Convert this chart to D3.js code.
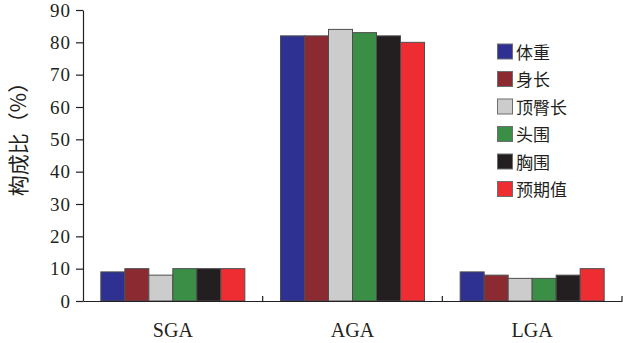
<!DOCTYPE html>
<html><head><meta charset="utf-8">
<script src="https://cdn.jsdelivr.net/npm/d3@7"></script>
<style>body{margin:0;background:#fff}</style>
</head><body>
<svg id="c" width="623" height="343"></svg>
<script>
const categories = ["SGA","AGA","LGA"];
const seriesNames = ["体重","身长","顶臀长","头围","胸围","预期值"];
const seriesColors = ["#2e3192","#8b2a30","#cccccc","#3a8e45","#231f20","#ee2d32"];
const values = [
  [9, 82, 9],
  [10, 82, 8],
  [8, 84, 7],
  [10, 83, 7],
  [10, 82, 8],
  [10, 80, 10]
];
const yTicks = [0,10,20,30,40,50,60,70,80,90];

(function(){
const svg = d3.select("#c");
const mLeft = 83, mRight = 622, mTop = 10, mBottom = 301;
const x = d3.scaleBand().domain(categories).range([mLeft, mRight]).paddingInner(0).paddingOuter(0);
const y = d3.scaleLinear().domain([0,90]).range([mBottom, mTop]);
const groupW = 144;
const xs = d3.scaleBand().domain(d3.range(seriesNames.length)).range([0, groupW]).padding(0);
const ink = "#231f20";
const serif = "'Liberation Serif', 'Times New Roman', serif";

// bars
seriesNames.forEach((s, si) => {
  svg.append("g").selectAll("rect").data(categories).join("rect")
    .attr("x", c => x(c) + (x.bandwidth() - groupW)/2 + xs(si))
    .attr("y", (c, ci) => y(values[si][ci]))
    .attr("width", xs.bandwidth())
    .attr("height", (c, ci) => mBottom - y(values[si][ci]))
    .attr("fill", seriesColors[si])
    .attr("stroke", "#4d4d4f").attr("stroke-width", 1);
});

// y axis
const ya = svg.append("g").attr("transform", `translate(${mLeft},0)`)
  .call(d3.axisLeft(y).tickValues(yTicks).tickSize(7).tickPadding(5).tickSizeOuter(0));
ya.attr("font-family", null);
ya.select(".domain").attr("stroke", ink).attr("stroke-width", 1.2);
ya.selectAll(".tick line").attr("stroke", ink).attr("stroke-width", 1.2);
ya.selectAll(".tick text").style("font-family", serif).attr("font-size", 19)
  .attr("letter-spacing", 1).attr("fill", ink);

// x axis
const xa = svg.append("g").attr("transform", `translate(0,${mBottom})`)
  .call(d3.axisBottom(x).tickSize(0).tickSizeOuter(0).tickPadding(22));
xa.attr("font-family", null);
xa.select(".domain").attr("stroke", ink).attr("stroke-width", 1.2);
xa.selectAll(".tick text").style("font-family", serif).attr("font-size", 20).attr("fill", ink);
// category separator ticks
svg.append("g").selectAll("line").data(categories).join("line")
  .attr("x1", c => x(c) + x.bandwidth()).attr("x2", c => x(c) + x.bandwidth())
  .attr("y1", mBottom - 5).attr("y2", mBottom)
  .attr("stroke", ink).attr("stroke-width", 1.2);

// y title
svg.append("text")
  .attr("transform", "translate(26,134) rotate(-90)")
  .attr("text-anchor", "middle")
  .style("font-family", "'Noto Sans CJK SC', sans-serif")
  .attr("font-size", 21).attr("fill", ink)
  .text("构成比（%）");

// legend
const lg = svg.append("g");
seriesNames.forEach((s, i) => {
  const yy = 44 + i * 27.5;
  lg.append("rect").attr("x", 497.5).attr("y", yy).attr("width", 15).attr("height", 15)
    .attr("fill", seriesColors[i]).attr("stroke", "#6d6e70").attr("stroke-width", 1);
  lg.append("text").attr("x", 516).attr("y", yy + 14.5)
    .style("font-family", "'Noto Sans CJK SC', sans-serif").attr("font-size", 17).attr("fill", ink)
    .text(s);
});
})();
</script>
</body></html>
